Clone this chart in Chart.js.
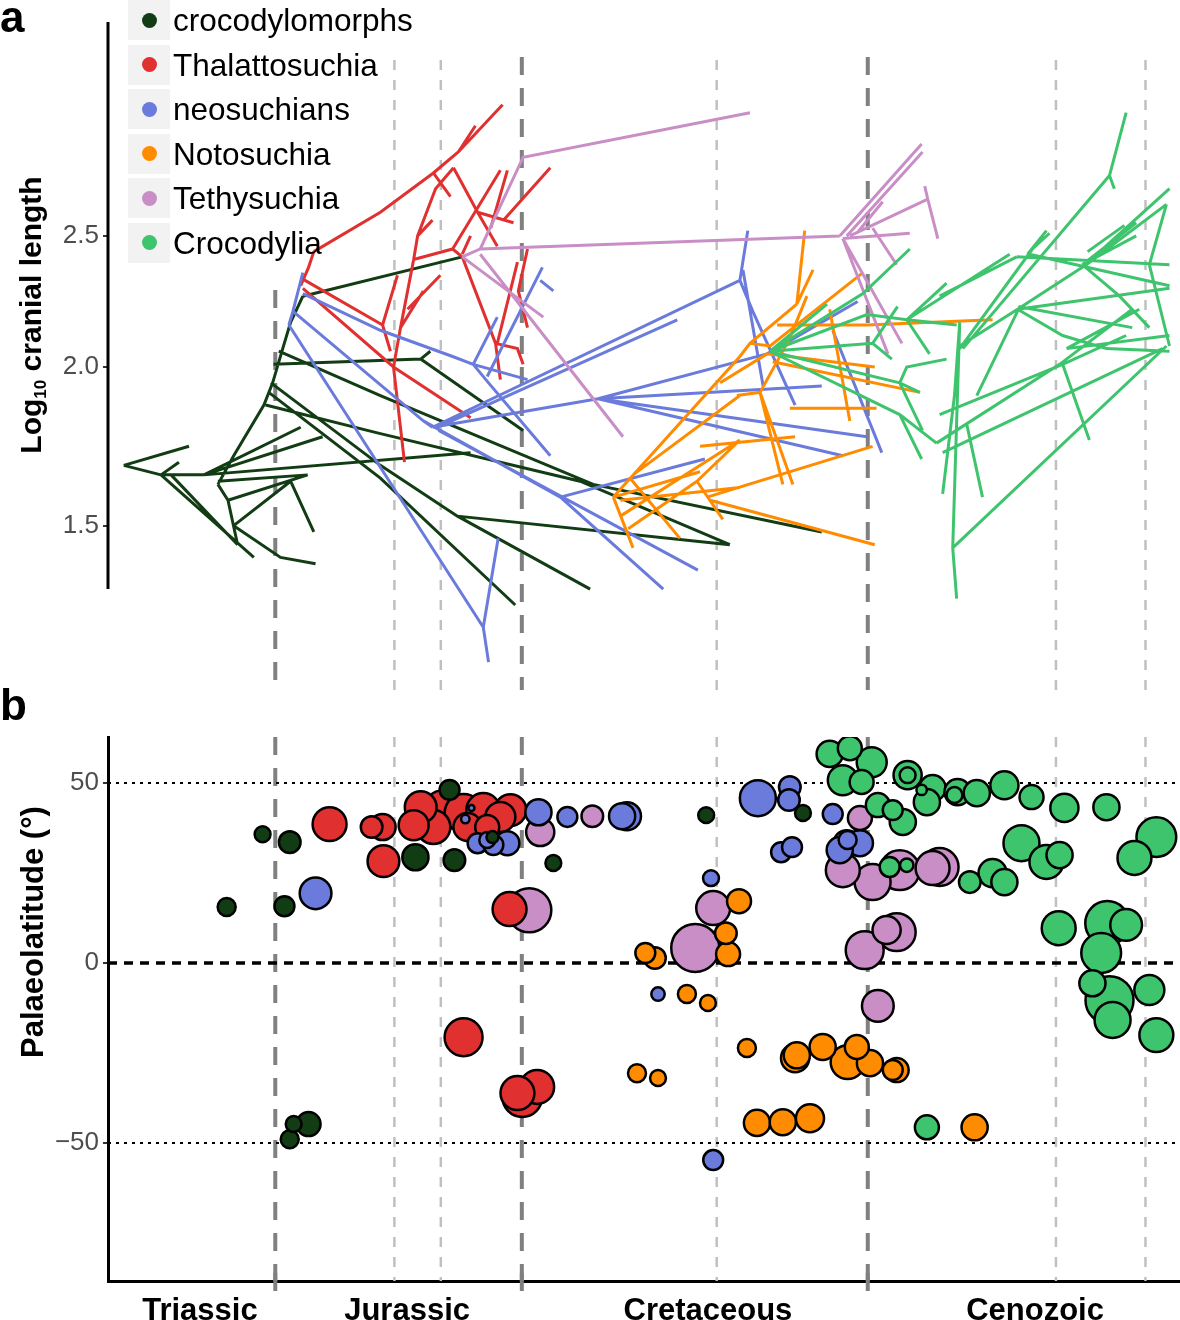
<!DOCTYPE html>
<html>
<head>
<meta charset="utf-8">
<script src="https://cdn.jsdelivr.net/npm/chart.js@4.4.1/dist/chart.umd.min.js"></script>
<style>
body { margin: 0; background: #fff; width: 1180px; height: 1320px; position: relative; overflow: hidden; font-family: "Liberation Sans", Arial, sans-serif; }
#tree { position: absolute; left: 0; top: 0; }
#geo { position: absolute; left: 0; top: 680px; }
#legend { position: absolute; left: 128px; top: 0; }
.row { display: flex; align-items: center; height: 40px; margin-bottom: 4.6px; }
.key { width: 42px; height: 40px; background: #f2f2f2; display: flex; align-items: center; justify-content: center; }
.dot { width: 15px; height: 15px; border-radius: 50%; }
.lab { font-size: 31.5px; margin-left: 3px; color: #000; line-height: 40px; }
</style>
</head>
<body>
<canvas id="tree" width="1180" height="700"></canvas>
<canvas id="geo" width="1180" height="640"></canvas>
<div id="legend"></div>
<script>
const clades = ['crocodylomorphs', 'Thalattosuchia', 'neosuchians', 'Notosuchia', 'Tethysuchia', 'Crocodylia'];
const cladeColours = ['#123d14', '#e0302f', '#6a7bdb', '#ff8c00', '#c98ec6', '#3ec46d'];

const periods = ['Triassic', 'Jurassic', 'Cretaceous', 'Cenozoic'];
const periodLabelAge = [218.5, 171.2, 102.5, 27.8];
const majorBounds = [201.3, 145, 66];
const minorBounds = [174.1, 163.5, 100.5, 23.03, 2.58];
const lengthTicks = [2.5, 2.0, 1.5];
const latTicks = [50, 0, -50];

// panel a: each branch is a polyline [age Ma, log10 length, age, log10 length, ...]
const crocodylomorphBranches = [
    [235.9, 1.69, 221.0, 1.75],
    [235.9, 1.69, 227.4, 1.66],
    [227.4, 1.66, 223.3, 1.70],
    [227.4, 1.66, 217.6, 1.66],
    [227.4, 1.66, 206.2, 1.40],
    [225.1, 1.66, 209.9, 1.44],
    [217.6, 1.66, 195.5, 1.81],
    [217.6, 1.66, 190.5, 1.78],
    [217.6, 1.66, 156.7, 1.73],
    [214.4, 1.64, 193.9, 1.66],
    [214.4, 1.63, 212.1, 1.58, 209.9, 1.44],
    [212.1, 1.58, 193.9, 1.66],
    [210.8, 1.50, 197.8, 1.64],
    [197.8, 1.64, 192.5, 1.48],
    [210.8, 1.50, 200.1, 1.40, 192.1, 1.38],
    [214.4, 1.63, 210.8, 1.72, 203.9, 1.88, 201.9, 1.95, 199.6, 2.07, 197.8, 2.17, 195.0, 2.27],
    [195.0, 2.27, 158.6, 2.42],
    [201.7, 2.01, 168.1, 2.03, 165.9, 2.06],
    [168.1, 2.03, 144.7, 1.80],
    [200.5, 2.06, 177.3, 1.91, 128.7, 1.63, 76.5, 1.48],
    [203.5, 1.88, 177.3, 1.79, 131.7, 1.64, 97.5, 1.44],
    [202.3, 1.95, 177.3, 1.69, 159.7, 1.53, 129.4, 1.30],
    [159.7, 1.53, 97.5, 1.44],
    [202.8, 1.92, 177.3, 1.65, 146.5, 1.25]
];
const thalattosuchianBranches = [
    [195.5, 2.31, 193.7, 2.38, 192.5, 2.44],
    [192.5, 2.44, 177.3, 2.59, 165.2, 2.74, 159.5, 2.82, 149.4, 3.00],
    [165.2, 2.74, 161.3, 2.65],
    [159.5, 2.82, 155.6, 2.92],
    [160.6, 2.76, 155.1, 2.59, 150.6, 2.46],
    [155.1, 2.59, 146.9, 2.55],
    [160.6, 2.76, 164.7, 2.68, 168.8, 2.50, 169.7, 2.41, 172.7, 2.15, 174.3, 2.00],
    [168.8, 2.50, 165.4, 2.56],
    [169.7, 2.41, 160.8, 2.45, 158.6, 2.42],
    [160.8, 2.45, 149.9, 2.75],
    [158.6, 2.43, 156.7, 2.50],
    [171.1, 2.22, 163.6, 2.35],
    [172.7, 2.15, 167.5, 2.29],
    [195.5, 2.34, 176.8, 2.16],
    [176.8, 2.16, 173.4, 2.35],
    [176.8, 2.16, 175.0, 2.06],
    [195.0, 2.30, 174.3, 2.00, 156.7, 1.84],
    [174.3, 2.00, 171.8, 1.70],
    [158.6, 2.42, 151.0, 2.09, 149.9, 1.96],
    [151.0, 2.09, 146.0, 2.07, 144.7, 2.01],
    [138.5, 2.76, 149.2, 2.56],
    [148.3, 2.75, 152.1, 2.53],
    [146.0, 2.40, 150.6, 2.09],
    [143.7, 2.45, 145.8, 2.29, 143.7, 2.15]
];
const neosuchianBranches = [
    [195.0, 2.36, 197.3, 2.21, 198.2, 2.16],
    [195.0, 2.28, 177.3, 2.14, 160.8, 2.04, 156.1, 2.01],
    [156.1, 2.01, 150.6, 2.19],
    [156.1, 2.01, 143.7, 1.96],
    [156.1, 2.01, 152.6, 1.95, 138.5, 1.72],
    [152.9, 1.97, 140.3, 2.38],
    [140.8, 2.33, 137.8, 2.29],
    [197.1, 2.21, 167.5, 1.83, 165.4, 1.81],
    [165.4, 1.81, 95.2, 2.33],
    [95.2, 2.33, 93.4, 2.52],
    [95.2, 2.33, 92.2, 2.21, 82.6, 1.88],
    [94.5, 2.37, 89.9, 1.94],
    [164.3, 1.81, 109.5, 2.18],
    [165.4, 1.81, 127.6, 1.90],
    [127.6, 1.90, 89.0, 2.05],
    [127.6, 1.90, 76.5, 1.94],
    [127.6, 1.90, 66.2, 1.78],
    [127.6, 1.90, 71.7, 1.72],
    [167.5, 1.83, 136.2, 1.59, 112.7, 1.30],
    [136.2, 1.59, 103.2, 1.71],
    [164.0, 1.80, 104.8, 1.36],
    [198.2, 2.16, 153.8, 1.18],
    [153.8, 1.18, 150.4, 1.46],
    [153.8, 1.18, 152.6, 1.07],
    [89.0, 2.05, 68.3, 2.25],
    [74.0, 2.14, 62.8, 1.73]
];
const notosuchianBranches = [
    [124.1, 1.59, 95.2, 2.04, 92.9, 2.09, 82.2, 2.24],
    [119.6, 1.66, 95.2, 1.91],
    [124.1, 1.59, 119.6, 1.43],
    [122.5, 1.53, 95.2, 1.77],
    [120.3, 1.65, 108.9, 1.46],
    [122.5, 1.58, 95.2, 1.62],
    [120.7, 1.49, 105.0, 1.64],
    [105.0, 1.64, 99.1, 1.52],
    [105.0, 1.64, 95.2, 1.77],
    [82.2, 2.24, 80.4, 2.52],
    [82.2, 2.24, 78.5, 2.37],
    [92.9, 2.09, 88.3, 2.08, 67.1, 2.36],
    [86.7, 2.16, 66.2, 2.16, 37.5, 2.18],
    [95.9, 1.91, 90.6, 1.92, 83.8, 2.11, 79.9, 2.27],
    [90.6, 1.92, 83.1, 1.63],
    [90.6, 1.92, 85.4, 1.63],
    [99.7, 1.95, 89.0, 2.05, 64.4, 2.00],
    [87.7, 2.02, 54.1, 1.92],
    [83.8, 1.87, 64.0, 1.87],
    [104.3, 1.75, 82.6, 1.78],
    [102.7, 1.59, 64.9, 1.75],
    [102.0, 1.58, 64.4, 1.44],
    [74.7, 2.22, 70.1, 1.83],
    [124.1, 1.59, 104.3, 1.67]
];
const tethysuchianBranches = [
    [158.6, 2.42, 154.5, 2.45, 72.4, 2.50],
    [154.5, 2.45, 144.7, 2.80, 92.9, 2.97],
    [158.6, 2.42, 140.1, 2.19],
    [154.5, 2.43, 121.9, 1.78],
    [72.4, 2.50, 53.7, 2.85],
    [70.8, 2.50, 53.5, 2.82],
    [70.1, 2.50, 52.3, 2.64, 50.0, 2.49],
    [52.3, 2.64, 53.0, 2.69],
    [71.7, 2.49, 56.4, 2.51],
    [71.7, 2.49, 58.2, 2.09],
    [71.7, 2.49, 61.4, 2.05],
    [68.5, 2.51, 62.6, 2.63],
    [64.9, 2.53, 59.4, 2.39]
];
const crocodylianBranches = [
    [88.3, 2.06, 67.1, 2.28, 56.4, 2.45],
    [88.3, 2.06, 66.2, 2.20, 57.1, 2.18, 33.6, 2.43],
    [88.3, 2.06, 64.9, 2.09, 60.5, 2.03],
    [64.9, 2.09, 59.2, 2.23],
    [88.3, 2.06, 58.7, 1.95, 54.1, 1.92],
    [88.3, 2.06, 58.7, 1.85, 50.3, 1.76],
    [58.7, 1.95, 57.1, 2.00, 48.0, 2.03],
    [58.7, 1.95, 53.5, 1.80],
    [58.7, 1.85, 53.7, 1.71],
    [88.3, 2.06, 75.3, 2.24],
    [57.1, 2.18, 45.7, 2.16],
    [57.1, 2.18, 51.9, 2.05],
    [57.1, 2.18, 48.0, 2.32],
    [45.0, 2.17, 46.6, 1.43, 45.7, 1.27],
    [46.6, 1.43, -2.2, 2.08],
    [50.3, 1.76, 22.2, 2.01, 5.6, 2.22],
    [21.5, 2.01, 15.4, 1.77],
    [45.0, 2.07, 28.4, 2.45, 24.5, 2.51],
    [41.1, 1.91, 31.3, 2.23, 5.6, 2.15],
    [43.4, 1.82, 39.8, 1.59],
    [44.3, 2.07, 10.8, 2.73, 7.0, 2.97],
    [10.8, 2.73, 9.7, 2.68],
    [17.0, 2.38, -2.9, 2.68],
    [17.0, 2.39, 4.7, 2.55],
    [17.0, 2.39, 4.7, 2.50],
    [29.1, 2.43, -2.9, 2.31],
    [32.0, 2.42, -2.9, 2.39],
    [-2.2, 2.62, 1.7, 2.39, -2.9, 2.08],
    [48.9, 1.73, -1.3, 2.07],
    [20.6, 2.07, -2.9, 2.12],
    [17.0, 2.39, 8.5, 2.27, 1.7, 2.15],
    [17.0, 2.38, 30.9, 2.23, 45.0, 2.08],
    [31.8, 2.22, 21.5, 2.12, 11.5, 2.07, -2.9, 2.06],
    [31.8, 2.22, -2.9, 2.30],
    [-2.2, 2.62, 16.1, 2.39],
    [7.4, 2.54, 15.8, 2.44],
    [32.0, 2.42, 49.6, 2.27],
    [29.5, 2.43, 25.2, 2.52],
    [20.6, 2.07, 4.0, 2.22],
    [49.6, 1.85, 21.5, 2.01, 7.0, 2.12],
    [45.0, 2.17, 46.2, 1.91, 48.9, 1.60]
];

// panel b: [age Ma, palaeolatitude, number of specimens]
const crocodylomorphSites = [
    [204.2, 35.8, 7], [198.0, 33.6, 13], [161.5, 48.1, 11], [169.3, 29.4, 19], [160.4, 28.6, 13],
    [151.7, 35.0, 4], [137.8, 27.8, 7], [212.4, 15.6, 9], [199.2, 15.8, 11], [193.7, -44.7, 16],
    [197.1, -44.7, 7], [198.0, -48.9, 9], [102.9, 41.1, 7], [80.8, 41.7, 7]
];
const thalattosuchianSites = [
    [188.9, 38.6, 32], [179.3, 37.8, 13], [176.8, 37.8, 19], [176.6, 28.3, 28], [168.1, 43.3, 28],
    [169.7, 38.3, 25], [165.2, 37.8, 32], [162.9, 42.5, 44], [158.3, 41.7, 40], [153.8, 42.5, 32],
    [149.9, 40.6, 25], [147.6, 42.5, 28], [157.4, 37.8, 22], [152.9, 37.8, 16], [147.8, 15.0, 32],
    [158.3, -20.6, 40], [144.9, -37.2, 44], [141.5, -34.4, 32], [146.0, -36.1, 32]
];
const neosuchianSites = [
    [157.9, 40.0, 2], [156.5, 43.1, 1], [155.1, 33.3, 11], [151.5, 32.8, 11], [148.3, 33.3, 16],
    [152.9, 34.2, 7], [141.2, 41.9, 19], [134.6, 40.6, 11], [122.1, 40.8, 19], [121.0, 40.8, 22],
    [192.1, 19.4, 28], [101.8, 23.6, 7], [113.9, -8.6, 5], [101.3, -54.7, 11], [91.1, 45.8, 36],
    [83.8, 48.9, 13], [84.0, 45.3, 13], [85.8, 30.8, 11], [83.3, 32.2, 11], [74.0, 41.4, 11],
    [70.8, 33.3, 19], [67.8, 33.3, 19], [72.4, 31.4, 19], [70.6, 34.2, 9]
];
const notosuchianSites = [
    [95.4, 17.2, 16], [98.4, 8.3, 13], [97.9, 2.5, 16], [116.8, 2.8, 11], [114.6, 1.4, 13],
    [107.3, -8.6, 9], [102.5, -11.1, 7], [93.6, -23.6, 9], [118.7, -30.6, 9], [113.9, -31.9, 7],
    [82.6, -26.4, 22], [82.2, -25.6, 19], [76.3, -23.3, 19], [70.6, -27.5, 32], [68.5, -23.3, 16],
    [65.5, -27.8, 19], [60.3, -29.7, 11], [59.4, -29.7, 16], [91.3, -44.4, 19], [85.4, -44.2, 19],
    [79.2, -43.1, 22], [41.6, -45.6, 19]
];
const tethysuchianSites = [
    [140.8, 36.4, 22], [143.3, 14.7, 54], [128.9, 40.8, 13], [101.3, 15.3, 32], [105.4, 4.2, 64],
    [67.8, 40.3, 16], [71.7, 25.8, 32], [64.9, 22.5, 36], [58.7, 25.8, 44], [51.2, 26.4, 32],
    [49.6, 26.7, 40], [61.7, 9.2, 22], [59.4, 8.6, 40], [66.7, 3.6, 40], [63.7, -11.9, 28]
];
const crocodylianSites = [
    [74.7, 58.1, 19], [70.1, 59.7, 16], [65.1, 55.8, 25], [71.7, 50.8, 25], [67.4, 50.3, 16],
    [63.7, 43.9, 16], [60.3, 42.5, 11], [61.0, 26.7, 11], [57.1, 27.2, 5], [56.9, 52.2, 22],
    [56.9, 52.2, 7], [53.7, 48.1, 3], [51.2, 48.6, 19], [52.5, 44.7, 19], [45.5, 47.5, 19],
    [46.2, 46.7, 7], [41.1, 47.2, 19], [34.8, 49.4, 22], [28.6, 46.1, 16], [21.1, 43.1, 22],
    [11.5, 43.3, 19], [58.0, 39.2, 19], [42.7, 22.5, 13], [37.5, 25.0, 22], [34.8, 22.5, 19],
    [30.9, 33.3, 36], [25.2, 28.1, 32], [22.2, 30.0, 19], [22.4, 9.7, 32], [11.3, 11.1, 54],
    [7.0, 10.6, 28], [12.7, 2.8, 44], [14.7, -5.6, 19], [10.8, -10.3, 64], [10.1, -15.8, 36],
    [1.7, -7.5, 25], [0.1, -20.0, 32], [5.1, 29.2, 32], [0.1, 35.0, 44], [52.5, -45.6, 16]
];

const branchSets = [crocodylomorphBranches, thalattosuchianBranches, neosuchianBranches,
    notosuchianBranches, tethysuchianBranches, crocodylianBranches];
const siteSets = [crocodylomorphSites, thalattosuchianSites, neosuchianSites,
    notosuchianSites, tethysuchianSites, crocodylianSites];

Chart.defaults.font.family = '"Liberation Sans", Arial, sans-serif';

// the length axis of the original is stretched below 2.0
const stretch = 1.2105;
const toAxis = v => v >= 2 ? v : 2 - (2 - v) * stretch;

const toPoints = branches => {
    const pts = [];
    branches.forEach(b => {
        for (let i = 0; i < b.length; i += 2) pts.push({ x: b[i], y: toAxis(b[i + 1]) });
        pts.push({ x: b[b.length - 2], y: null });
    });
    return pts;
};

const vline = (ctx, x, y0, y1, colour, width, dash) => {
    ctx.strokeStyle = colour;
    ctx.lineWidth = width;
    ctx.setLineDash(dash);
    ctx.beginPath();
    ctx.moveTo(x, y0);
    ctx.lineTo(x, y1);
    ctx.stroke();
};

const treeDecor = {
    id: 'treeDecor',
    beforeDatasetsDraw(chart) {
        const { ctx, scales: { x } } = chart;
        ctx.save();
        majorBounds.forEach(a => vline(ctx, x.getPixelForValue(a), a > 200 ? 290 : 57, 690, '#808080', 4, [18, 13]));
        minorBounds.forEach(a => vline(ctx, x.getPixelForValue(a), 60, 690, '#c0c0c0', 2.5, [10, 10]));
        ctx.restore();
    },
    afterDraw(chart) {
        const { ctx, chartArea, scales: { y } } = chart;
        ctx.save();
        vline(ctx, chartArea.left, chartArea.top, y.getPixelForValue(toAxis(1.3)), '#000', 3, []);
        ctx.fillStyle = '#000';
        ctx.font = 'bold 44px "Liberation Sans", Arial';
        ctx.fillText('a', 0, 32);
        // y title with subscript
        ctx.translate(41, 315);
        ctx.rotate(-Math.PI / 2);
        const big = 'bold 30px "Liberation Sans", Arial';
        const small = 'bold 17px "Liberation Sans", Arial';
        ctx.font = big;
        const w1 = ctx.measureText('Log').width;
        const w3 = ctx.measureText(' cranial length').width;
        ctx.font = small;
        const w2 = ctx.measureText('10').width;
        const x0 = -(w1 + w2 + w3) / 2;
        ctx.font = big;
        ctx.fillText('Log', x0, 0);
        ctx.font = small;
        ctx.fillText('10', x0 + w1, 5);
        ctx.font = big;
        ctx.fillText(' cranial length', x0 + w1 + w2, 0);
        ctx.restore();
    }
};

new Chart(document.getElementById('tree'), {
    type: 'scatter',
    data: {
        datasets: clades.map((c, i) => ({
            label: c,
            data: toPoints(branchSets[i]),
            showLine: true,
            spanGaps: false,
            borderColor: cladeColours[i],
            backgroundColor: cladeColours[i],
            borderWidth: 3,
            pointRadius: 0,
            order: clades.length - i
        }))
    },
    options: {
        responsive: false,
        animation: false,
        events: [],
        layout: { autoPadding: false, padding: { top: 22, bottom: 10, left: 0, right: 0 } },
        plugins: { legend: { display: false }, tooltip: { enabled: false } },
        scales: {
            x: { type: 'linear', reverse: true, min: -5.3, max: 239.5, display: false },
            y: {
                type: 'linear', min: 0.8045, max: 3.3158,
                afterFit: s => { s.width = 108; },
                afterBuildTicks: s => { s.ticks = lengthTicks.map(v => ({ value: toAxis(v) })); },
                ticks: { callback: (v, i) => lengthTicks[i].toFixed(1), color: '#4d4d4d', font: { size: 26 }, padding: 4 },
                grid: { drawOnChartArea: false, tickLength: 5, color: '#333', lineWidth: 2 },
                border: { display: false }
            }
        }
    },
    plugins: [treeDecor]
});

const sites = [];
siteSets.forEach((set, i) => set.forEach(([age, lat, n]) => sites.push({ x: age, y: lat, r: 3 * Math.sqrt(n), clade: i })));
sites.sort((a, b) => b.r - a.r);

const geoDecor = {
    id: 'geoDecor',
    beforeDatasetsDraw(chart) {
        const { ctx, chartArea, scales: { x, y } } = chart;
        ctx.save();
        majorBounds.forEach(a => vline(ctx, x.getPixelForValue(a), chartArea.top, chartArea.bottom, '#808080', 4, [18, 13]));
        minorBounds.forEach(a => vline(ctx, x.getPixelForValue(a), chartArea.top, chartArea.bottom, '#c0c0c0', 2.5, [10, 10]));
        latTicks.forEach(v => {
            const py = y.getPixelForValue(v);
            ctx.strokeStyle = '#000';
            ctx.lineWidth = v === 0 ? 3.5 : 2;
            ctx.setLineDash(v === 0 ? [9, 7] : [3, 5]);
            ctx.beginPath();
            ctx.moveTo(chartArea.left, py);
            ctx.lineTo(chartArea.right, py);
            ctx.stroke();
        });
        ctx.restore();
    },
    afterDraw(chart) {
        const { ctx, chartArea, scales: { x } } = chart;
        ctx.save();
        majorBounds.forEach(a => vline(ctx, x.getPixelForValue(a), chartArea.bottom - 8, chartArea.bottom + 10, '#808080', 4, []));
        ctx.fillStyle = '#000';
        ctx.font = 'bold 44px "Liberation Sans", Arial';
        ctx.fillText('b', 0, 40);
        ctx.translate(43, 252);
        ctx.rotate(-Math.PI / 2);
        ctx.font = 'bold 31px "Liberation Sans", Arial';
        ctx.textAlign = 'center';
        ctx.fillText('Palaeolatitude (°)', 0, 0);
        ctx.restore();
    }
};

new Chart(document.getElementById('geo'), {
    type: 'bubble',
    data: {
        datasets: [{
            data: sites,
            backgroundColor: sites.map(s => cladeColours[s.clade]),
            borderColor: '#000',
            borderWidth: 2.5
        }]
    },
    options: {
        responsive: false,
        animation: false,
        events: [],
        layout: { autoPadding: false, padding: { top: 57, bottom: 0, left: 0, right: 0 } },
        plugins: { legend: { display: false }, tooltip: { enabled: false } },
        scales: {
            x: {
                type: 'linear', reverse: true, min: -5.3, max: 239.5,
                afterFit: s => { s.height = 39; },
                afterBuildTicks: s => { s.ticks = periodLabelAge.map(v => ({ value: v })); },
                ticks: { callback: (v, i) => periods[i], color: '#000', font: { size: 31, weight: 'bold' }, padding: 12, autoSkip: false, maxRotation: 0 },
                grid: { drawOnChartArea: false, drawTicks: false },
                border: { display: true, width: 3, color: '#000' }
            },
            y: {
                type: 'linear', min: -88.3, max: 62.8,
                afterFit: s => { s.width = 108; },
                afterBuildTicks: s => { s.ticks = latTicks.map(v => ({ value: v })); },
                ticks: { callback: v => v < 0 ? '\u2212' + Math.abs(v) : String(v), color: '#4d4d4d', font: { size: 26 }, padding: 4 },
                grid: { drawOnChartArea: false, tickLength: 5, color: '#333', lineWidth: 2 },
                border: { display: true, width: 3, color: '#000' }
            }
        }
    },
    plugins: [geoDecor]
});

const legend = document.getElementById('legend');
clades.forEach((c, i) => {
    const row = document.createElement('div');
    row.className = 'row';
    row.innerHTML = '<div class="key"><div class="dot" style="background:' + cladeColours[i] + '"></div></div><span class="lab">' + c + '</span>';
    legend.appendChild(row);
});
</script>
</body>
</html>
